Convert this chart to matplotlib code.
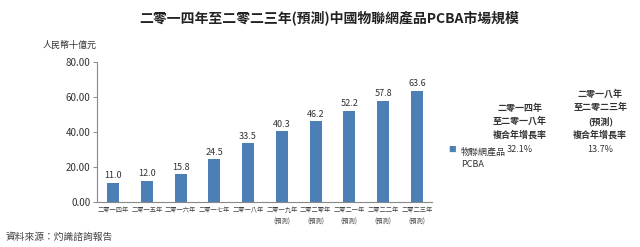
import matplotlib
matplotlib.use("Agg")
import matplotlib.pyplot as plt

plt.rcParams['font.family'] = ['Noto Sans CJK TC', 'DejaVu Sans']

# data
years = ["二零一四年", "二零一五年", "二零一六年", "二零一七年", "二零一八年",
         "二零一九年\n(預測)", "二零二零年\n(預測)", "二零二一年\n(預測)",
         "二零二二年\n(預測)", "二零二三年\n(預測)"]
values = [11.0, 12.0, 15.8, 24.5, 33.5, 40.3, 46.2, 52.2, 57.8, 63.6]
yticks = [0, 20, 40, 60, 80]
cagr_headers = ["二零一四年\n至二零一八年\n複合年增長率", "二零一八年\n至二零二三年\n(預測)\n複合年增長率"]
cagr_values = ["32.1%", "13.7%"]
series_name = "物聯網產品\nPCBA"

bar_color = "#4c7fb6"

fig = plt.figure(figsize=(6.4, 2.47), dpi=100)
ax = fig.add_axes([0.152, 0.182, 0.523, 0.567])

x = range(len(values))
ax.bar(x, values, width=0.36, color=bar_color)
for i, v in zip(x, values):
    ax.text(i, v + 1.5, "%.1f" % v, ha="center", va="bottom", fontsize=6.5, color="#333333")

ax.set_xlim(-0.47, 9.45)
ax.set_ylim(0, 80)
ax.set_yticks(yticks)
ax.set_yticklabels(["%.2f" % t for t in yticks], fontsize=7, color="#333333")
ax.set_xticks(list(x))
ax.set_xticklabels(years, fontsize=4.5, color="#444444", linespacing=1.6)
ax.tick_params(axis="x", length=0, pad=3)
ax.tick_params(axis="y", length=3, width=0.6, color="#777777", pad=2)
for s in ["top", "right"]:
    ax.spines[s].set_visible(False)
for s in ["left", "bottom"]:
    ax.spines[s].set_color("#888888")
    ax.spines[s].set_linewidth(0.8)

fig.text(0.515, 0.925, "二零一四年至二零二三年(預測)中國物聯網產品PCBA市場規模",
         ha="center", va="center", fontsize=10, fontweight="bold", color="#222222")
fig.text(0.108, 0.818, "人民幣十億元", ha="center", va="center", fontsize=6.5, color="#333333")

# CAGR table beside the chart
fig.text(0.706, 0.393, "■", ha="center", va="center", fontsize=5.5, color=bar_color)
fig.text(0.72, 0.36, series_name, ha="left", va="center", fontsize=6.5, color="#333333", linespacing=1.4)
for cx, h, v in zip([0.812, 0.938], cagr_headers, cagr_values):
    fig.text(cx, 0.435, h, ha="center", va="bottom", fontsize=6.5, color="#333333",
             linespacing=1.55, fontweight="bold")
    fig.text(cx, 0.393, v, ha="center", va="center", fontsize=6.5, color="#333333")

fig.text(0.008, 0.04, "資料來源：灼識諮詢報告", ha="left", va="center", fontsize=7,
         color="#444444", style="italic")

fig.savefig("out.png", dpi=100)
